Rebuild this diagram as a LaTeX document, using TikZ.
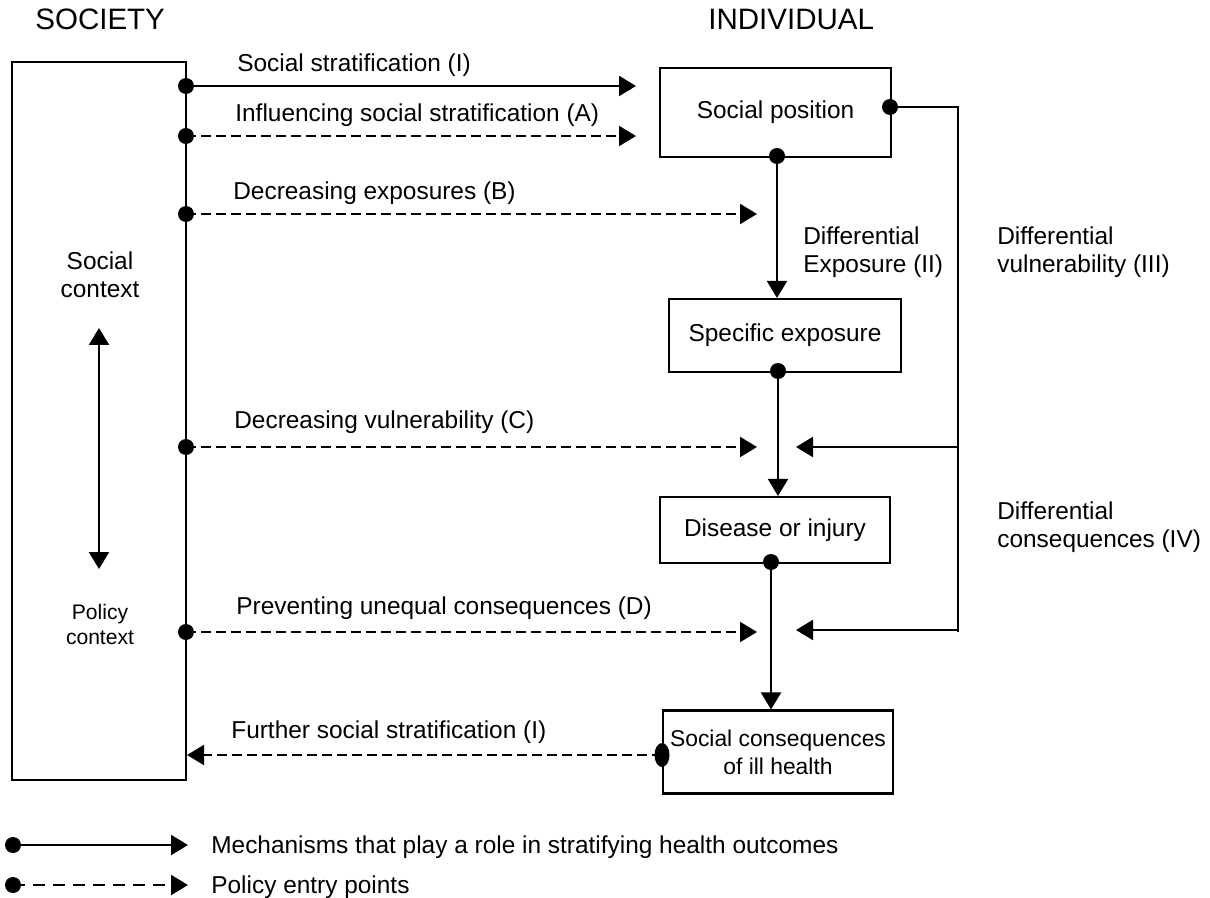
\documentclass[tikz,border=0pt]{standalone}
\usepackage{fontspec}
\setmainfont{Liberation Sans}
\usetikzlibrary{arrows.meta,shapes.geometric}
\begin{document}
\begin{tikzpicture}[x=0.02cm,y=-0.02cm,
  font=\fontsize{13.9pt}{16.4pt}\selectfont,
  >={Triangle[length=0.34cm,width=0.4cm]},
  ln/.style={line width=1.2pt},
  box/.style={draw,line width=1.2pt,inner sep=0pt,align=center},
  dot/.style={circle,fill,inner sep=0pt,minimum size=0.32cm},
  mech/.style={line width=1.2pt,->},
  pol/.style={mech,dash pattern=on 0.2cm off 0.1cm},
  lbl/.style={anchor=base west,inner sep=0pt},
  two/.style={anchor=north west,inner sep=0pt,align=left},
  head/.style={anchor=base west,inner sep=0pt,font=\fontsize{16.8pt}{19pt}\selectfont}]
\useasboundingbox (0,0) rectangle (1210,898);

% headers
\node[head] (hsoc) at (35,30) {SOCIETY};
\node[head] (hind) at (708,30) {INDIVIDUAL};

% society box
\node[box,minimum width=3.48cm,minimum height=14.36cm] (soc) at (99,421) {};
\node[anchor=north,align=center,inner sep=0pt] (sctx) at (100,251) {Social\\context};
\node[anchor=north,align=center,inner sep=0pt,font=\fontsize{12pt}{14.2pt}\selectfont] (pctx) at (100,604) {Policy\\context};
\coordinate (dtop) at (99,328);
\coordinate (dbot) at (99,569);
\draw[ln,<->] (dtop) -- (dbot);

% individual boxes
\node[box,minimum width=4.62cm,minimum height=1.78cm] (pos) at (775.5,112.5) {Social position};
\node[box,minimum width=4.64cm,minimum height=1.46cm] (exp) at (785,335.5) {Specific exposure};
\node[box,minimum width=4.6cm,minimum height=1.32cm] (dis) at (775,530) {Disease or injury};
\node[box,minimum width=4.6cm,minimum height=1.66cm,font=\fontsize{13pt}{15.9pt}\selectfont] (cons) at (778,752) {Social consequences\\of ill health};

% dots on society edge
\node[dot] (d1) at (186,86) {};
\node[dot] (d2) at (186,136) {};
\node[dot] (d3) at (186,214) {};
\node[dot] (d4) at (186,447) {};
\node[dot] (d5) at (186,632) {};

% dots on individual boxes
\node[dot] (dp) at (890,107) {};
\node[dot] (dpb) at (777,156) {};
\node[dot] (deb) at (778,371) {};
\node[dot] (ddb) at (771,562) {};
\node[ellipse,fill,inner sep=0pt,minimum width=0.3cm,minimum height=0.48cm] (dc) at (662,755) {};

% arrow end points
\coordinate (t1) at (636,86);
\coordinate (ta) at (636,136);
\coordinate (tb) at (757,214);
\coordinate (tc) at (757,447);
\coordinate (td) at (757,632);

% mechanisms
\draw[mech] (d1.center) -- (t1);
\draw[mech] (dpb.center) -- (exp.north -| dpb);
\draw[mech] (deb.center) -- (dis.north -| deb);
\draw[mech] (ddb.center) -- (cons.north -| ddb);

% feedback from social position
\coordinate (fr) at (958,107);
\coordinate (fb) at (958,632);
\coordinate (fc) at (958,447);
\coordinate (fd) at (958,630);
\coordinate (rc) at (796,447);
\coordinate (rd) at (796,630);
\draw[ln] (dp.center) -- (fr) -- (fb);
\draw[mech] (fc) -- (rc);
\draw[mech] (fd) -- (rd);

% policy entry points
\draw[pol] (d2.center) -- (ta);
\draw[pol] (d3.center) -- (tb);
\draw[pol] (d4.center) -- (tc);
\draw[pol] (d5.center) -- (td);
\draw[pol] (dc.center) -- (soc.east |- dc);

% labels
\node[lbl] (l1) at (237,72) {Social stratification (I)};
\node[lbl] (l2) at (235,122) {Influencing social stratification (A)};
\node[lbl] (l3) at (233,200) {Decreasing exposures (B)};
\node[lbl] (l4) at (234,428) {Decreasing vulnerability (C)};
\node[lbl] (l5) at (236,614) {Preventing unequal consequences (D)};
\node[lbl] (l6) at (231,738) {Further social stratification (I)};
\node[two] (l7) at (803,226) {Differential\\Exposure (II)};
\node[two] (l8) at (997,226) {Differential\\vulnerability (III)};
\node[two] (l9) at (997,501) {Differential\\consequences (IV)};

% legend
\node[dot] (g1) at (13,845) {};
\coordinate (g1e) at (188,845);
\draw[mech] (g1.center) -- (g1e);
\node[lbl] (g1t) at (211,853) {Mechanisms that play a role in stratifying health outcomes};
\node[dot] (g2) at (13,885) {};
\coordinate (g2e) at (188,885);
\draw[mech,dash pattern=on 0.24cm off 0.16cm] (g2.center) -- (g2e);
\node[lbl] (g2t) at (211,893) {Policy entry points};
\end{tikzpicture}
\end{document}
